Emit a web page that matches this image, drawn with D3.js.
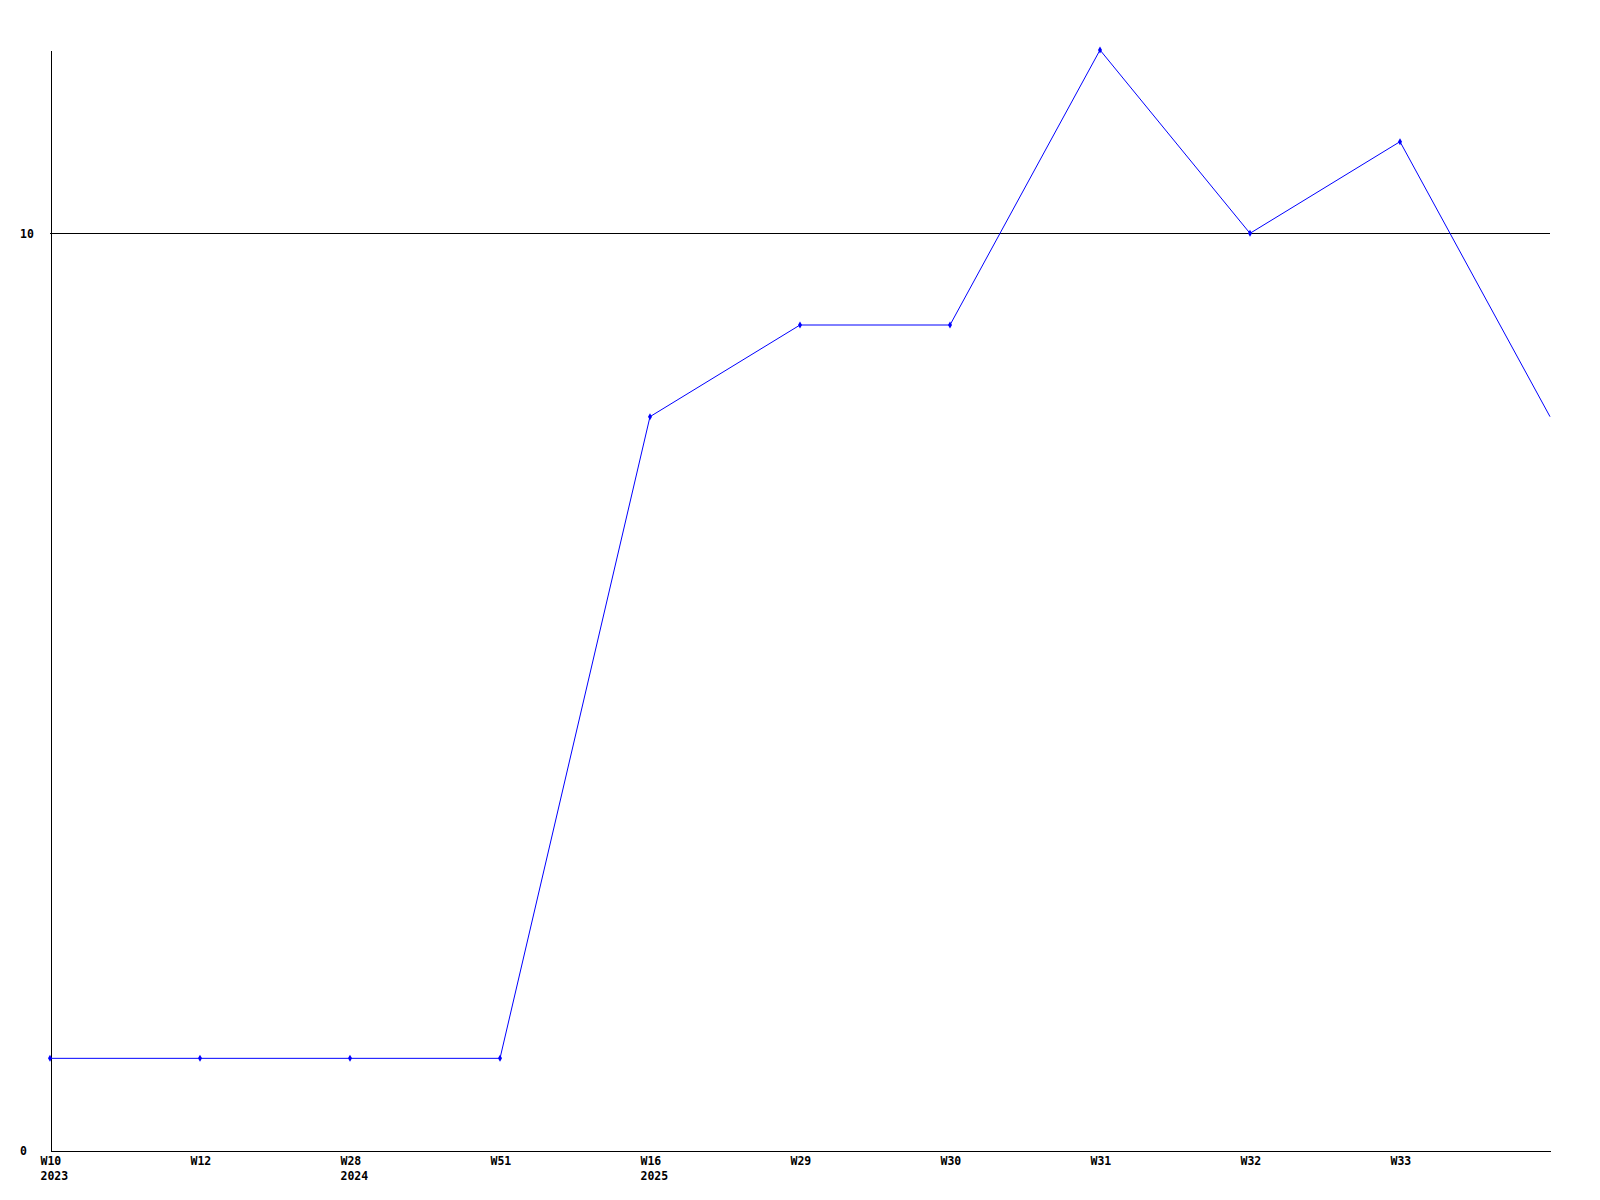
<!DOCTYPE html>
<html>
<head>
<meta charset="utf-8">
<script src="https://cdn.jsdelivr.net/npm/d3@7"></script>
<style>
  html, body { margin: 0; padding: 0; background: #fff; }
  svg { display: block; }
  text { font-family: "DejaVu Sans Mono", "Liberation Mono", monospace; font-weight: bold; font-size: 11.5px; fill: #000; }
</style>
</head>
<body>
<svg id="chart" width="1600" height="1200"></svg>
<script>
// ---- data ----
const weekLabels = ["W10", "W12", "W28", "W51", "W16", "W29", "W30", "W31", "W32", "W33", ""];
const yearLabels = ["2023", "", "2024", "", "2025", "", "", "", "", "", ""];
const values = [1, 1, 1, 1, 8, 9, 9, 12, 10, 11, 8];
const yTicks = [0, 10];
const refLine = 10;

// ---- layout ----
const mLeft = 50, mRight = 1550, mTop = 50, mBottom = 1150;
const svg = d3.select("#chart");

const x = d3.scalePoint().domain(d3.range(values.length)).range([mLeft, mRight]);
const y = d3.scaleLinear().domain([0, 12]).range([mBottom, mTop]);

// reference line
svg.append("line")
  .attr("x1", mLeft).attr("x2", mRight)
  .attr("y1", Math.round(y(refLine)) + 0.5).attr("y2", Math.round(y(refLine)) + 0.5)
  .attr("stroke", "#000").attr("stroke-width", 1).attr("shape-rendering", "crispEdges");

// y axis
const yAxis = svg.append("g")
  .attr("transform", `translate(${mLeft + 0.5},0)`)
  .call(d3.axisLeft(y).tickValues(yTicks).tickSize(0).tickSizeOuter(0).tickFormat(d3.format("d")));
yAxis.select(".domain").attr("stroke", "#000").attr("shape-rendering", "crispEdges");
yAxis.selectAll("text")
  .attr("x", -30.5).attr("dy", "0.35em")
  .attr("text-anchor", "start")
  .attr("font-family", null).attr("font-size", null);

// x axis
const xAxis = svg.append("g")
  .attr("transform", `translate(0,${mBottom + 0.5})`)
  .call(d3.axisBottom(x).tickSize(0).tickSizeOuter(0).tickFormat(i => weekLabels[i]));
xAxis.select(".domain").attr("stroke", "#000").attr("shape-rendering", "crispEdges");
xAxis.selectAll(".tick text")
  .attr("font-family", null).attr("font-size", null)
  .attr("text-anchor", "start")
  .attr("x", -10).attr("y", 14).attr("dy", "0em")
  .each(function(i) {
    const t = d3.select(this);
    t.text(null);
    t.append("tspan").attr("x", -10).attr("dy", 0).text(weekLabels[i]);
    if (yearLabels[i]) t.append("tspan").attr("x", -10).attr("dy", 15).text(yearLabels[i]);
  });

// series line
const line = d3.line().x((d, i) => x(i)).y(d => y(d));
svg.append("path")
  .datum(values)
  .attr("d", line)
  .attr("fill", "none")
  .attr("stroke", "#0000ff")
  .attr("stroke-width", 1);

// markers
svg.selectAll(".pt")
  .data(values.slice(0, values.length - 1))
  .enter().append("path")
  .attr("class", "pt")
  .attr("transform", (d, i) => `translate(${x(i)},${y(d)})`)
  .attr("d", d3.symbol().type(d3.symbolDiamond).size(14))
  .attr("fill", "#0000ff");
</script>
</body>
</html>
